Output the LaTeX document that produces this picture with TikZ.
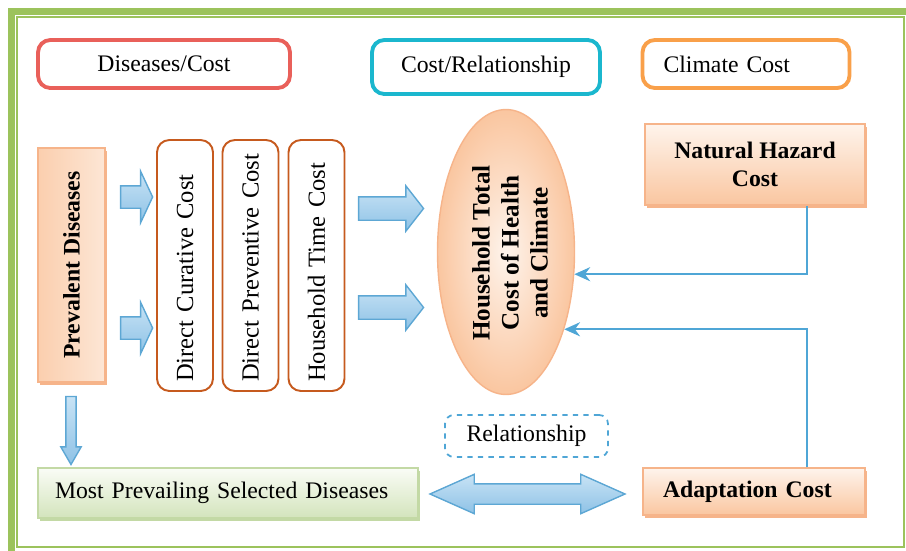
\documentclass[tikz,border=0pt]{standalone}
\usepackage{fontspec}
\setmainfont{Liberation Serif}
\tikzset{
every picture/.style={
line width=1pt
}}
\usetikzlibrary{shapes.geometric,shapes.arrows,arrows.meta}
\usetikzlibrary{shadows,positioning}
\definecolor{framegreen}{HTML}{9CC35C}
\definecolor{headred}{HTML}{E9605A}
\definecolor{headcyan}{HTML}{1BB7CE}
\definecolor{headorange}{HTML}{F9A04A}
\definecolor{costline}{HTML}{C65A1E}
\definecolor{peachline}{HTML}{F6B48A}
\definecolor{peachtop}{HTML}{FEF4EC}
\definecolor{peachbot}{HTML}{FAC6A0}
\definecolor{greenline}{HTML}{C3D9A5}
\definecolor{greentop}{HTML}{FAFCF6}
\definecolor{greenbot}{HTML}{D3E4BC}
\definecolor{arrowline}{HTML}{5DA7D4}
\definecolor{arrowtop}{HTML}{C8E3F5}
\definecolor{arrowbot}{HTML}{8EC2E6}
\definecolor{connblue}{HTML}{4FA6D6}
\tikzset{
head/.style={
  draw, rounded corners=7pt, line width=2.2pt, fill=white,
  minimum height=0.96cm, font=\fontsize{13.5}{16}\selectfont
},
costbox/.style={
  draw=costline, rounded corners=7pt, line width=1.1pt, fill=white,
  rotate=90, minimum height=1.12cm, text width=4.66cm, inner xsep=0.18cm,
  align=left, font=\fontsize{14}{16}\selectfont
},
peachbox/.style={
  draw=peachline, line width=0.8pt, top color=peachtop, bottom color=peachbot,
  drop shadow={shadow xshift=1.2pt, shadow yshift=-1.6pt, fill=peachline, opacity=1},
  font=\fontsize{13.5}{16}\selectfont\bfseries
},
greenbox/.style={
  draw=greenline, line width=0.8pt, top color=greentop, bottom color=greenbot,
  drop shadow={shadow xshift=1.2pt, shadow yshift=-1.6pt, fill=greenline, opacity=1},
  font=\fontsize{13.5}{16}\selectfont
},
blockarrow/.style={
  single arrow, draw=arrowline, line width=0.8pt,
  top color=arrowtop, bottom color=arrowbot, inner sep=0pt
},
smallarrow/.style={
  blockarrow, minimum height=0.64cm, inner ysep=0.21cm,
  single arrow head extend=0.29cm, single arrow tip angle=130
},
bigarrow/.style={
  blockarrow, minimum height=1.3cm, inner ysep=0.22cm,
  single arrow head extend=0.22cm, single arrow tip angle=104
},
conn/.style={
  draw=connblue, line width=1.3pt, -{Stealth[length=9pt,width=8pt]}
}
}
\begin{document}
\begin{tikzpicture}[x=0.02cm,y=-0.02cm]
\useasboundingbox (0,0) rectangle (906,551);

% frame
\draw[framegreen, line width=4pt] (11.5,11.5) rectangle (914,556);
\draw[framegreen, line width=1.1pt] (17,17) rectangle (904,547);

% headings
\node [head, draw=headred, minimum width=5.04cm] (hd) at (164,64) {Diseases/Cost};
\node [head, draw=headcyan, minimum width=4.56cm, minimum height=1.08cm] (hr) at (486,67) {Cost/Relationship};
\node [head, draw=headorange, text width=3.3cm, inner xsep=0.42cm, align=left] (hc) at (746,64) {Climate Cost};

% diseases and costs
\node [peachbox, rotate=90, minimum width=4.68cm, minimum height=1.34cm,
       left color=peachbot!85, right color=peachtop!70!peachbot] (prev) at (71.5,265) {Prevalent Diseases};
\node [costbox] (cure) at (185,265.5) {Direct Curative Cost};
\node [costbox] (care) at (250.5,265.5) {Direct Preventive Cost};
\node [costbox] (time) at (316.5,265.5) {Household Time Cost};

\node [smallarrow] (sa1) at (134,197) {};
\node [smallarrow] (sa2) at (134,328) {};
\node [bigarrow] (ba1) at (386.5,208.5) {};
\node [bigarrow] (ba2) at (386.5,307.5) {};
\node [blockarrow, rotate=-90, minimum height=1.36cm, inner ysep=0.09cm,
       single arrow head extend=0.1cm, single arrow tip angle=60] (da) at (71,426) {};

% total cost
\node [ellipse, draw=peachline, line width=0.8pt, inner color=peachtop, outer color=peachbot,
       minimum width=2.74cm, minimum height=5.7cm, inner sep=0pt] (hh) at (506,252) {};
\node [rotate=90, align=center, font=\fontsize{14.3}{16.5}\selectfont\bfseries] (hhtext) at (510,253)
      {Household Total\\Cost of Health\\and Climate};

% climate
\node [peachbox, minimum width=4.4cm, minimum height=1.62cm, align=center] (nhc) at (755,164.5) {Natural Hazard\\Cost};
\node [peachbox, minimum height=0.94cm, text width=3.64cm, inner xsep=0.4cm, align=left] (ad) at (754,491.5) {Adaptation Cost};

% bottom row
\node [greenbox, minimum height=1cm, text width=6.92cm, inner xsep=0.34cm, align=left] (mps) at (228,493) {Most Prevailing Selected Diseases};
\node [double arrow, draw=arrowline, line width=0.8pt, top color=arrowtop, bottom color=arrowbot,
       inner sep=0pt, minimum height=3.9cm, inner ysep=0.19cm,
       double arrow head extend=0.19cm, double arrow tip angle=48] (rela) at (527.5,494) {};
\node [draw=connblue, dashed, rounded corners=5pt, minimum width=3.26cm, minimum height=0.84cm,
       font=\fontsize{13.5}{16}\selectfont] (rel) at (526.5,436) {Relationship};

\draw [conn] ([xshift=1.04cm]nhc.south) |- (hh.-18);
\draw [conn] ([xshift=1.06cm]ad.north) |- (hh.-53);

\end{tikzpicture}
\end{document}
